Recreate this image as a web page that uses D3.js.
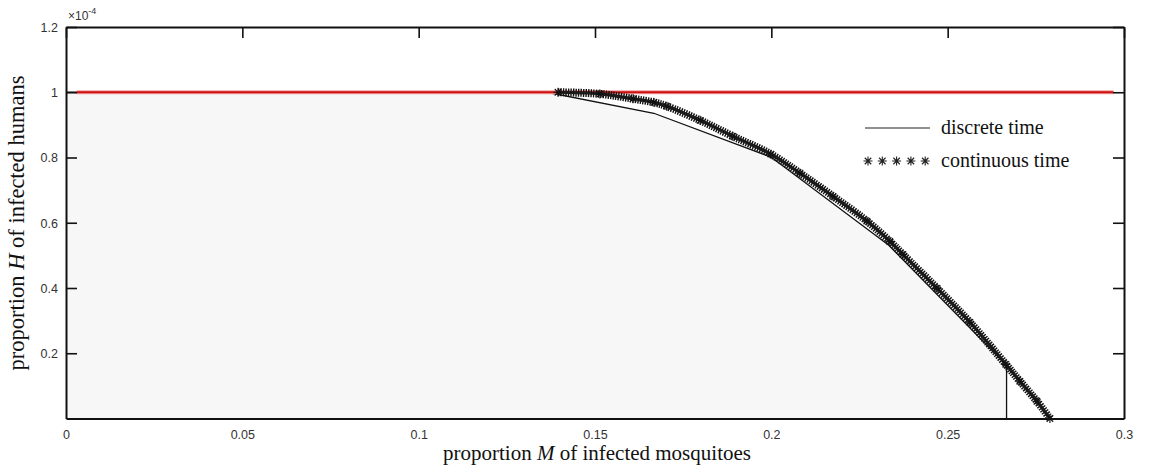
<!DOCTYPE html>
<html><head><meta charset="utf-8">
<script src="https://cdn.jsdelivr.net/npm/d3@7"></script>
<style>
html,body{margin:0;padding:0;background:#fff;}
svg{display:block;}
</style></head>
<body>
<svg id="chart" width="1172" height="473"></svg>
<script>
// ---- data (H in units of 1e-4) ----
const xTicks = [0, 0.05, 0.1, 0.15, 0.2, 0.25, 0.3];
const xTickLabels = ["0", "0.05", "0.1", "0.15", "0.2", "0.25", "0.3"];
const yTicks = [0.2, 0.4, 0.6, 0.8, 1, 1.2];
const yTickLabels = ["0.2", "0.4", "0.6", "0.8", "1", "1.2"];

// discrete time
const discreteM = [0, 0.0333, 0.0667, 0.1, 0.1364, 0.1667, 0.2, 0.2333, 0.2667, 0.2667];
const discreteH = [1, 1, 1, 1, 1, 0.9356, 0.8008, 0.531, 0.163, 0];

// continuous time
const contM = [0.1395, 0.1514, 0.1608, 0.1667, 0.1704, 0.1798, 0.1891, 0.1999, 0.2081, 0.2175, 0.2271, 0.2336, 0.2373, 0.2470, 0.2563, 0.2665, 0.2705, 0.2753, 0.2790];
const contH = [1.0, 0.995, 0.980, 0.969, 0.957, 0.914, 0.865, 0.810, 0.752, 0.681, 0.605, 0.543, 0.503, 0.399, 0.295, 0.166, 0.114, 0.053, 0.0];

// equilibrium line (red)
const eqM = [0.003, 0.297];
const eqH = [1, 1];

const legendLabels = ["discrete time", "continuous time"];

// ---- layout ----
const svg = d3.select("#chart");
const L = 66, R = 1124, T = 27, B = 418.5;
const x = d3.scaleLinear().domain([0, 0.3]).range([L, R]);
const y = d3.scaleLinear().domain([0, 1.2]).range([B, T]);

const discrete = discreteM.map((m, i) => [m, discreteH[i]]);
const cont = contM.map((m, i) => [m, contH[i]]);
const eq = eqM.map((m, i) => [m, eqH[i]]);

// shaded area under discrete curve
const area = d3.area().x(d => x(d[0])).y0(y(0)).y1(d => y(d[1]));
svg.append("path").datum(discrete).attr("d", area)
  .attr("fill", "#f7f7f7").attr("stroke", "none");

const line = d3.line().x(d => x(d[0])).y(d => y(d[1]));

// discrete line
svg.append("path").datum(discrete).attr("d", line)
  .attr("fill", "none").attr("stroke", "#111").attr("stroke-width", 1.3);

// red equilibrium line
svg.append("path").datum(eq).attr("d", line)
  .attr("fill", "none").attr("stroke", "#f2a0a0").attr("stroke-width", 4);
svg.append("path").datum(eq).attr("d", line)
  .attr("fill", "none").attr("stroke", "#cc1111").attr("stroke-width", 2.2);

// continuous curve drawn as dense asterisk band
const cline = d3.line().x(d => x(d[0])).y(d => y(d[1])).curve(d3.curveCatmullRom);
svg.append("path").datum(cont).attr("d", cline)
  .attr("fill", "none").attr("stroke", "#111").attr("stroke-width", 8)
  .attr("stroke-dasharray", "1.4 1.1");
svg.append("path").datum(cont).attr("d", cline)
  .attr("fill", "none").attr("stroke", "#1a1a1a").attr("stroke-width", 3.2);

function asterisk(s) {
  const a = s / 2, b = a * 0.72;
  return `M${-a},0L${a},0M0,${-a}L0,${a}M${-b},${-b}L${b},${b}M${-b},${b}L${b},${-b}`;
}
svg.append("g").selectAll("path").data(cont).join("path")
  .attr("transform", d => `translate(${x(d[0])},${y(d[1])})`)
  .attr("d", asterisk(9)).attr("stroke", "#111").attr("stroke-width", 1.1).attr("fill", "none");

// ---- axes (box with inward ticks) ----
const axisColor = "#111";
const tickFont = "Liberation Sans, Arial, sans-serif";

const gLeft = svg.append("g").attr("transform", `translate(${L},0)`)
  .call(d3.axisLeft(y).tickValues(yTicks).tickSizeInner(-11).tickSizeOuter(0)
    .tickPadding(8).tickFormat((d, i) => yTickLabels[i]));
const gRight = svg.append("g").attr("transform", `translate(${R},0)`)
  .call(d3.axisRight(y).tickValues(yTicks).tickSizeInner(-11).tickSizeOuter(0).tickFormat(""));
const gTop = svg.append("g").attr("transform", `translate(0,${T})`)
  .call(d3.axisTop(x).tickValues(xTicks).tickSizeInner(-11).tickSizeOuter(0).tickFormat(""));
const gBottom = svg.append("g").attr("transform", `translate(0,${B})`)
  .call(d3.axisBottom(x).tickValues(xTicks).tickSize(0).tickPadding(12)
    .tickFormat((d, i) => xTickLabels[i]));

[gLeft, gRight, gTop, gBottom].forEach(g => {
  g.select(".domain").attr("stroke", axisColor).attr("stroke-width", 2);
  g.selectAll(".tick line").attr("stroke", axisColor).attr("stroke-width", 1.6);
  g.selectAll(".tick text").attr("fill", "#333").style("font-family", tickFont).style("font-size", "12.5px");
});
gLeft.selectAll(".tick text").attr("dy", "0.35em");

// ×10^-4
const exp = svg.append("text").attr("x", 68).attr("y", 20)
  .style("font-family", tickFont).style("font-size", "12px").attr("fill", "#333");
exp.append("tspan").text("×10");
exp.append("tspan").attr("dy", -6).style("font-size", "9px").text("-4");

// ---- axis titles ----
const serif = "Liberation Serif, 'Times New Roman', serif";
const xt = svg.append("text").attr("x", 597).attr("y", 460).attr("text-anchor", "middle")
  .style("font-family", serif).style("font-size", "21px").attr("fill", "#111");
xt.append("tspan").text("proportion ");
xt.append("tspan").style("font-style", "italic").text("M");
xt.append("tspan").text(" of infected mosquitoes");

const yt = svg.append("text").attr("transform", "translate(24,223) rotate(-90)").attr("text-anchor", "middle")
  .style("font-family", serif).style("font-size", "22.5px").attr("fill", "#111");
yt.append("tspan").text("proportion ");
yt.append("tspan").style("font-style", "italic").text("H");
yt.append("tspan").text(" of infected humans");

// ---- legend ----
const lg = svg.append("g");
lg.append("line").attr("x1", 865).attr("x2", 930).attr("y1", 128).attr("y2", 128)
  .attr("stroke", "#222").attr("stroke-width", 1);
lg.selectAll("path.ast").data([0, 1, 2, 3, 4]).join("path")
  .attr("class", "ast")
  .attr("transform", i => `translate(${868 + i * 14.3},161)`)
  .attr("d", asterisk(9)).attr("stroke", "#222").attr("stroke-width", 1.1).attr("fill", "none");
lg.selectAll("text").data(legendLabels).join("text")
  .attr("x", 941).attr("y", (d, i) => 134 + i * 33)
  .style("font-family", serif).style("font-size", "20px").attr("fill", "#111")
  .text(d => d);
</script>
</body></html>
